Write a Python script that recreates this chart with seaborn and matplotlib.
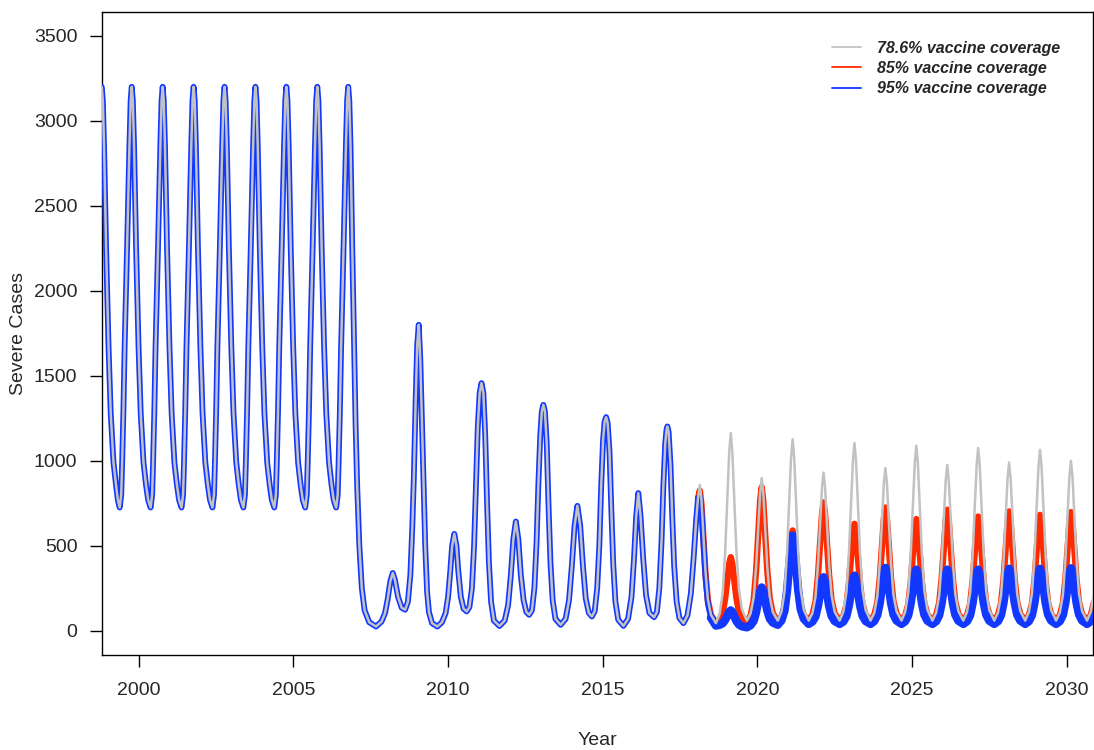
import matplotlib
matplotlib.use("Agg")
import matplotlib.pyplot as plt
from matplotlib.lines import Line2D
import seaborn as sns
import pandas as pd

sns.set_style("ticks")
plt.rcParams['font.family'] = ['Liberation Sans', 'DejaVu Sans']

# ---- data ----
# regular epidemic cycles before 2007 (same for all scenarios)
early_years = [
    1998.80, 1998.835, 1998.875, 1998.94, 1999.02, 1999.09, 1999.18, 1999.26, 1999.32,
    1999.38, 1999.43, 1999.46, 1999.50, 1999.54, 1999.62, 1999.695, 1999.735, 1999.77,
    1999.805, 1999.845, 1999.91, 1999.99, 2000.06, 2000.15, 2000.23, 2000.30,
    2000.38, 2000.43, 2000.46, 2000.50, 2000.54, 2000.62, 2000.695, 2000.735, 2000.77,
    2000.805, 2000.845, 2000.91, 2000.99, 2001.06, 2001.15, 2001.23, 2001.30,
    2001.38, 2001.43, 2001.46, 2001.50, 2001.54, 2001.62, 2001.695, 2001.735, 2001.77,
    2001.805, 2001.845, 2001.91, 2001.99, 2002.06, 2002.15, 2002.23, 2002.30,
    2002.38, 2002.43, 2002.46, 2002.50, 2002.54, 2002.62, 2002.695, 2002.735, 2002.77,
    2002.805, 2002.845, 2002.91, 2002.99, 2003.06, 2003.15, 2003.23, 2003.30,
    2003.38, 2003.43, 2003.46, 2003.50, 2003.54, 2003.62, 2003.695, 2003.735, 2003.77,
    2003.805, 2003.845, 2003.91, 2003.99, 2004.06, 2004.15, 2004.23, 2004.30,
    2004.38, 2004.43, 2004.46, 2004.50, 2004.54, 2004.62, 2004.695, 2004.735, 2004.77,
    2004.805, 2004.845, 2004.91, 2004.99, 2005.06, 2005.15, 2005.23, 2005.30,
    2005.38, 2005.43, 2005.46, 2005.50, 2005.54, 2005.62, 2005.695, 2005.735, 2005.77,
    2005.805, 2005.845, 2005.91, 2005.99, 2006.06, 2006.15, 2006.23, 2006.30,
    2006.38, 2006.43, 2006.46, 2006.50, 2006.54, 2006.62, 2006.695, 2006.735, 2006.77,
]
early_cases = [
    3200, 3120, 2850, 2260, 1670, 1280, 990, 860, 770,
    725, 800, 990, 1290, 1670, 2260, 2850, 3120, 3200,
    3120, 2850, 2260, 1670, 1280, 990, 860, 770,
    725, 800, 990, 1290, 1670, 2260, 2850, 3120, 3200,
    3120, 2850, 2260, 1670, 1280, 990, 860, 770,
    725, 800, 990, 1290, 1670, 2260, 2850, 3120, 3200,
    3120, 2850, 2260, 1670, 1280, 990, 860, 770,
    725, 800, 990, 1290, 1670, 2260, 2850, 3120, 3200,
    3120, 2850, 2260, 1670, 1280, 990, 860, 770,
    725, 800, 990, 1290, 1670, 2260, 2850, 3120, 3200,
    3120, 2850, 2260, 1670, 1280, 990, 860, 770,
    725, 800, 990, 1290, 1670, 2260, 2850, 3120, 3200,
    3120, 2850, 2260, 1670, 1280, 990, 860, 770,
    725, 800, 990, 1290, 1670, 2260, 2850, 3120, 3200,
    3120, 2850, 2260, 1670, 1280, 990, 860, 770,
    725, 800, 990, 1290, 1670, 2260, 2850, 3120, 3200,
]

# after the 2007 drop, still shared by all scenarios up to 2018
mid_years = [
    2006.805, 2006.845, 2006.90, 2006.96, 2007.01, 2007.06, 2007.13, 2007.21, 2007.30, 2007.45,
    2007.67, 2007.85, 2007.96, 2008.05, 2008.13, 2008.21, 2008.28, 2008.38, 2008.50, 2008.61,
    2008.70, 2008.78, 2008.84, 2008.89, 2008.95, 2009.00, 2009.05, 2009.10, 2009.15, 2009.20,
    2009.26, 2009.32, 2009.38, 2009.48, 2009.65, 2009.80, 2009.92, 2010.00, 2010.07, 2010.13,
    2010.20, 2010.27, 2010.33, 2010.41, 2010.50, 2010.60, 2010.69, 2010.77, 2010.84, 2010.90,
    2010.96, 2011.02, 2011.08, 2011.14, 2011.20, 2011.26, 2011.32, 2011.39, 2011.48, 2011.66,
    2011.83, 2011.94, 2012.03, 2012.11, 2012.19, 2012.27, 2012.35, 2012.44, 2012.53, 2012.62,
    2012.71, 2012.79, 2012.86, 2012.92, 2012.98, 2013.03, 2013.08, 2013.13, 2013.19, 2013.25,
    2013.31, 2013.38, 2013.47, 2013.64, 2013.80, 2013.91, 2014.00, 2014.09, 2014.18, 2014.27,
    2014.36, 2014.45, 2014.55, 2014.65, 2014.74, 2014.82, 2014.89, 2014.95, 2015.01, 2015.06,
    2015.11, 2015.16, 2015.22, 2015.28, 2015.34, 2015.41, 2015.50, 2015.67, 2015.82, 2015.93,
    2016.01, 2016.08, 2016.15, 2016.22, 2016.31, 2016.40, 2016.51, 2016.66, 2016.75, 2016.83,
    2016.90, 2016.96, 2017.02, 2017.06, 2017.09, 2017.13, 2017.19, 2017.25, 2017.31, 2017.39,
    2017.48, 2017.61, 2017.74, 2017.85, 2017.94, 2018.02, 2018.08,
]
mid_cases = [
    3120, 2850, 2260, 1670, 1200, 850, 500, 250, 120, 50,
    25, 55, 104, 190, 290, 340, 300, 200, 135, 124,
    170, 330, 600, 888, 1350, 1680, 1800, 1600, 1250, 888,
    500, 230, 110, 45, 25, 50, 104, 200, 350, 500,
    570, 500, 350, 200, 130, 114, 140, 250, 500, 850,
    1200, 1400, 1457, 1400, 1150, 750, 400, 170, 60, 28,
    60, 150, 330, 540, 643, 540, 330, 180, 110, 94,
    120, 250, 520, 870, 1150, 1290, 1329, 1290, 1100, 720,
    400, 180, 70, 35, 70, 180, 380, 620, 735, 620,
    380, 190, 105, 84, 115, 250, 500, 850, 1120, 1230,
    1257, 1220, 1050, 700, 390, 170, 65, 29, 70, 200,
    420, 670, 810, 680, 420, 210, 105, 80, 110, 250,
    520, 850, 1100, 1180, 1202, 1170, 980, 660, 380, 170,
    75, 45, 90, 220, 430, 650, 780,
]

# projections from 2018 on, one series per coverage level
proj_years = [
    2018.14, 2018.19, 2018.25, 2018.32, 2018.40, 2018.50, 2018.66, 2018.78, 2018.88, 2018.96, 2019.03, 2019.09,
    2019.14, 2019.19, 2019.25, 2019.32, 2019.40, 2019.50, 2019.66, 2019.78, 2019.88, 2019.96, 2020.03, 2020.09,
    2020.14, 2020.19, 2020.25, 2020.32, 2020.40, 2020.50, 2020.66, 2020.78, 2020.88, 2020.96, 2021.03, 2021.09,
    2021.14, 2021.19, 2021.25, 2021.32, 2021.40, 2021.50, 2021.66, 2021.78, 2021.88, 2021.96, 2022.03, 2022.09,
    2022.14, 2022.19, 2022.25, 2022.32, 2022.40, 2022.50, 2022.66, 2022.78, 2022.88, 2022.96, 2023.03, 2023.09,
    2023.14, 2023.19, 2023.25, 2023.32, 2023.40, 2023.50, 2023.66, 2023.78, 2023.88, 2023.96, 2024.03, 2024.09,
    2024.14, 2024.19, 2024.25, 2024.32, 2024.40, 2024.50, 2024.66, 2024.78, 2024.88, 2024.96, 2025.03, 2025.09,
    2025.14, 2025.19, 2025.25, 2025.32, 2025.40, 2025.50, 2025.66, 2025.78, 2025.88, 2025.96, 2026.03, 2026.09,
    2026.14, 2026.19, 2026.25, 2026.32, 2026.40, 2026.50, 2026.66, 2026.78, 2026.88, 2026.96, 2027.03, 2027.09,
    2027.14, 2027.19, 2027.25, 2027.32, 2027.40, 2027.50, 2027.66, 2027.78, 2027.88, 2027.96, 2028.03, 2028.09,
    2028.14, 2028.19, 2028.25, 2028.32, 2028.40, 2028.50, 2028.66, 2028.78, 2028.88, 2028.96, 2029.03, 2029.09,
    2029.14, 2029.19, 2029.25, 2029.32, 2029.40, 2029.50, 2029.66, 2029.78, 2029.88, 2029.96, 2030.03, 2030.09,
    2030.14, 2030.19, 2030.25, 2030.32, 2030.40, 2030.50, 2030.66, 2030.78, 2030.88,
]
cov786_cases = [
    858, 777, 582, 354, 183, 94, 45, 101, 224, 470, 783, 1051,
    1163, 1053, 788, 479, 248, 126, 60, 102, 194, 378, 613, 814,
    898, 814, 613, 378, 202, 110, 60, 113, 231, 465, 764, 1020,
    1127, 1020, 764, 465, 241, 124, 60, 104, 199, 391, 635, 844,
    931, 844, 635, 391, 208, 112, 60, 112, 227, 457, 749, 1000,
    1104, 1000, 749, 457, 237, 123, 60, 105, 204, 401, 652, 867,
    957, 867, 652, 401, 212, 114, 60, 111, 224, 451, 738, 985,
    1088, 985, 738, 451, 235, 122, 60, 106, 207, 408, 665, 884,
    976, 884, 665, 408, 216, 115, 60, 111, 222, 446, 730, 974,
    1075, 974, 730, 446, 233, 121, 60, 107, 209, 413, 674, 897,
    990, 897, 674, 413, 218, 116, 60, 110, 221, 442, 723, 965,
    1065, 965, 723, 442, 231, 120, 60, 107, 210, 417, 680, 906,
    1000, 906, 680, 417, 220, 116, 60, 110, 220,
]
cov85_cases = [
    825, 747, 560, 341, 178, 92, 45, 64, 107, 192, 301, 394,
    433, 395, 303, 196, 115, 73, 50, 90, 177, 352, 575, 766,
    845, 766, 576, 355, 189, 102, 55, 82, 141, 258, 408, 537,
    590, 537, 410, 261, 150, 92, 60, 95, 171, 324, 519, 686,
    755, 686, 519, 324, 178, 102, 60, 88, 151, 276, 436, 572,
    629, 572, 436, 276, 157, 94, 60, 93, 166, 313, 499, 659,
    725, 659, 499, 313, 173, 100, 60, 90, 156, 287, 454, 597,
    657, 597, 454, 287, 162, 96, 60, 93, 164, 308, 490, 647,
    712, 647, 490, 308, 171, 99, 60, 91, 158, 293, 464, 611,
    672, 611, 464, 293, 164, 97, 60, 92, 163, 304, 484, 638,
    702, 638, 484, 304, 169, 99, 60, 91, 160, 296, 471, 620,
    682, 620, 471, 296, 166, 97, 60, 92, 162, 302, 481, 634,
    698, 634, 481, 302, 169, 98, 60, 92, 162,
]
cov95_cases = [
    792, 716, 533, 320, 160, 76, 30, 35, 44, 64, 89, 111,
    120, 110, 86, 58, 37, 26, 20, 32, 58, 109, 175, 232,
    255, 233, 180, 119, 72, 48, 35, 61, 119, 235, 382, 508,
    560, 508, 383, 238, 128, 71, 40, 54, 84, 145, 222, 288,
    315, 288, 222, 145, 87, 57, 40, 54, 86, 148, 228, 297,
    325, 297, 228, 148, 89, 57, 40, 57, 93, 165, 258, 337,
    370, 337, 258, 165, 96, 60, 40, 56, 91, 162, 251, 328,
    360, 328, 251, 162, 94, 59, 40, 56, 91, 162, 251, 328,
    360, 328, 251, 162, 94, 59, 40, 56, 91, 162, 251, 328,
    360, 328, 251, 162, 94, 59, 40, 56, 92, 164, 255, 333,
    365, 333, 255, 164, 95, 60, 40, 56, 92, 164, 255, 333,
    365, 333, 255, 164, 95, 60, 40, 56, 92, 165, 256, 335,
    368, 335, 256, 165, 96, 60, 40, 56, 92,
]

labels = ["78.6% vaccine coverage", "85% vaccine coverage", "95% vaccine coverage"]
x_ticks = [2000, 2005, 2010, 2015, 2020, 2025, 2030]
y_ticks = [0, 500, 1000, 1500, 2000, 2500, 3000, 3500]

GRAY = "#c2c2c2"
RED = "#ff2a00"
BLUE = "#1238ff"

shared_years = early_years + mid_years
shared_cases = early_cases + mid_cases
assert len(early_years) == len(early_cases)
assert len(mid_years) == len(mid_cases)
for s in (cov786_cases, cov85_cases, cov95_cases):
    assert len(s) == len(proj_years)


def build(proj_cases):
    return pd.DataFrame({"Year": shared_years + proj_years,
                         "Cases": shared_cases + proj_cases})


gray_df = build(cov786_cases)
red_df = build(cov85_cases)
blue_df = build(cov95_cases)

fig = plt.figure(figsize=(10.94, 7.5), dpi=100)
ax = fig.add_axes([0.093, 0.127, 0.906, 0.857])

line_kw = dict(x="Year", y="Cases", estimator=None, sort=False, ax=ax,
               solid_joinstyle="round", solid_capstyle="round")

# lines get a little heavier once the scenarios split (after the 2018 peak)
SPLIT = 2018.50
sns.lineplot(data=red_df[red_df["Year"] <= SPLIT], color=RED, linewidth=3.0, zorder=2, **line_kw)
sns.lineplot(data=red_df[red_df["Year"] >= 2018.08], color=RED, linewidth=4.6, zorder=2, **line_kw)
sns.lineplot(data=blue_df[blue_df["Year"] <= SPLIT], color=BLUE, linewidth=4.2, zorder=3, **line_kw)
sns.lineplot(data=blue_df[blue_df["Year"] >= SPLIT], color=BLUE, linewidth=6.0, zorder=3, **line_kw)
sns.lineplot(data=gray_df, color=GRAY, linewidth=1.8, zorder=4, **line_kw)

ax.set_xlim(1998.8, 2030.85)
ax.set_ylim(-141, 3640)
ax.set_xticks(x_ticks)
ax.set_yticks(y_ticks)
ax.set_xlabel("Year", fontsize=14, labelpad=24)
ax.set_ylabel("Severe Cases", fontsize=14, labelpad=5)
ax.tick_params(direction="out", length=8.5, width=1.0, labelsize=14, color="black")
ax.tick_params(axis="x", pad=11)
ax.tick_params(axis="y", pad=9)
for sp in ax.spines.values():
    sp.set_visible(True)
    sp.set_linewidth(1.0)
    sp.set_color("black")

handles = [Line2D([0], [0], color=c, linewidth=1.3) for c in (GRAY, RED, BLUE)]
ax.legend(handles, labels, loc="upper left", bbox_to_anchor=(0.737, 0.955),
          frameon=False, prop={"size": 11.5, "weight": "bold", "style": "italic"},
          handlelength=1.8, handletextpad=1.0, labelspacing=0.32,
          borderpad=0, borderaxespad=0)

fig.savefig("out.png", dpi=100)
